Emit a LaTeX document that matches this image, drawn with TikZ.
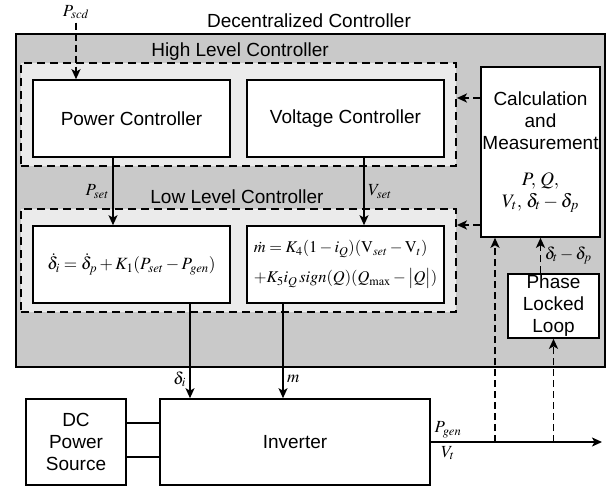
\documentclass[tikz,border=0pt]{standalone}
\usepackage{mathptmx}
\usepackage[no-math]{fontspec}
\setmainfont{Liberation Sans}
\usetikzlibrary{arrows.meta,calc,positioning}
\definecolor{dcgray}{HTML}{C9C9C9}
\definecolor{lvlgray}{HTML}{EBEBEB}
\tikzstyle{arrow}=[line width=1.6pt,-{Stealth[length=10pt,width=9pt,inset=2.5pt]}]
\tikzstyle{dasharrow}=[arrow,line width=1.9pt,dash pattern=on 7pt off 4pt]

\begin{document}
\begin{tikzpicture}[
    x=1pt,y=-1pt,
    block/.style={
        rectangle,
        draw,
        fill=white,
        line width=1.6pt,
        inner sep=0pt,
        align=center,
        font=\fontsize{19}{22}\selectfont
    },
    level/.style={
        rectangle,
        draw,
        fill=lvlgray,
        line width=1.8pt,
        dash pattern=on 8pt off 5pt,
        inner sep=0pt
    },
    title/.style={font=\fontsize{19}{22}\selectfont},
    sig/.style={font=\fontsize{17}{20}\selectfont}
]
\useasboundingbox (0,0) rectangle (610,487);
\node[draw,fill=dcgray,line width=1.6pt,minimum width=589,minimum height=333] (dc) at (310.5,200.5) {};
\node[title] (dctitle) at (309,21) {Decentralized Controller};
\node[level,minimum width=435,minimum height=103] (high) at (238.5,114.5) {};
\node[title] (hightitle) at (240,52) {High Level Controller};
\node[level,minimum width=435,minimum height=103] (low) at (238.5,260.5) {};
\node[title] (lowtitle) at (237,197) {Low Level Controller};

\node[block,minimum width=197,minimum height=77] (pc) at (131.5,118.5) {Power Controller};
\node[block,minimum width=197,minimum height=77] (vc) at (345.5,118.5) {Voltage Controller};
\node[block,font=\fontsize{17.2}{22}\selectfont,minimum width=197,minimum height=77] (eqd) at (131.5,264.5)
{$\dot{\delta}_i=\dot{\delta}_p+K_1(P_{set}-P_{gen})$};
\node[block,font=\fontsize{16.4}{30}\selectfont,align=left,minimum width=197,minimum height=77] (eqm) at (345.5,264.5)
{$\dot{m}=K_4(1-i_Q)(\mathrm{V}_{set}-\mathrm{V}_t)$\\
$+K_5i_Q\,sign(Q)(Q_{\max}-\bigl|Q\bigr|)$};
\node[block,minimum width=119,minimum height=170] (calc) at (540.5,152)
{Calculation\\and\\Measurement\\[14pt]$P,\,Q,$\\$V_t,\,\delta_t-\delta_p$};
\node[block,minimum width=91,minimum height=64] (pll) at (553.5,306) {Phase\\Locked\\Loop};
\node[block,minimum width=270,minimum height=86] (inv) at (295,442) {Inverter};
\node[block,minimum width=100,minimum height=86] (dcs) at (76,442) {DC\\Power\\Source};
\node[sig] (scdlabel) at (76,12) {$P_{scd}$};
\coordinate (outend) at (602,442);
\coordinate (tapcalc) at (495,442);

\draw[dasharrow] (scdlabel.south) -- (scdlabel.south |- pc.north);
\draw[arrow] ([xshift=-18.5pt]pc.south) -- ([xshift=-18.5pt]eqd.north) node[midway,left,sig]{$P_{set}$};
\draw[arrow] ([xshift=18.5pt]vc.south) -- ([xshift=18.5pt]eqm.north) node[midway,right,sig]{$V_{set}$};
\draw[arrow] ([xshift=58.5pt]eqd.south) -- ([xshift=58.5pt]eqd.south |- inv.north) node[pos=0.8,left,sig]{$\delta_i$};
\draw[arrow] ([xshift=-62.5pt]eqm.south) -- ([xshift=-62.5pt]eqm.south |- inv.north) node[pos=0.8,right,sig]{$m$};
\draw[line width=1.6pt] ([yshift=19pt]dcs.east) -- ([yshift=19pt]dcs.east -| inv.west);
\draw[line width=1.6pt] ([yshift=-15pt]dcs.east) -- ([yshift=-15pt]dcs.east -| inv.west);
\draw[arrow] (inv.east) -- (outend) node[pos=0.1,above,sig]{$P_{gen}$} node[pos=0.1,below,sig]{$V_t$};
\draw[dasharrow] ([yshift=54pt]calc.west) -- ([yshift=54pt]calc.west -| high.east);
\draw[dasharrow] ([yshift=-73pt]calc.west) -- ([yshift=-73pt]calc.west -| low.east);
\draw[dasharrow] (tapcalc) -- (tapcalc |- calc.south);
\draw[dasharrow] (pll.south |- inv.east) -- (pll.south);
\draw[dasharrow] (pll.north -| calc.south) -- (calc.south) node[midway,right,sig]{$\delta_t-\delta_p$};
\end{tikzpicture}
\end{document}
